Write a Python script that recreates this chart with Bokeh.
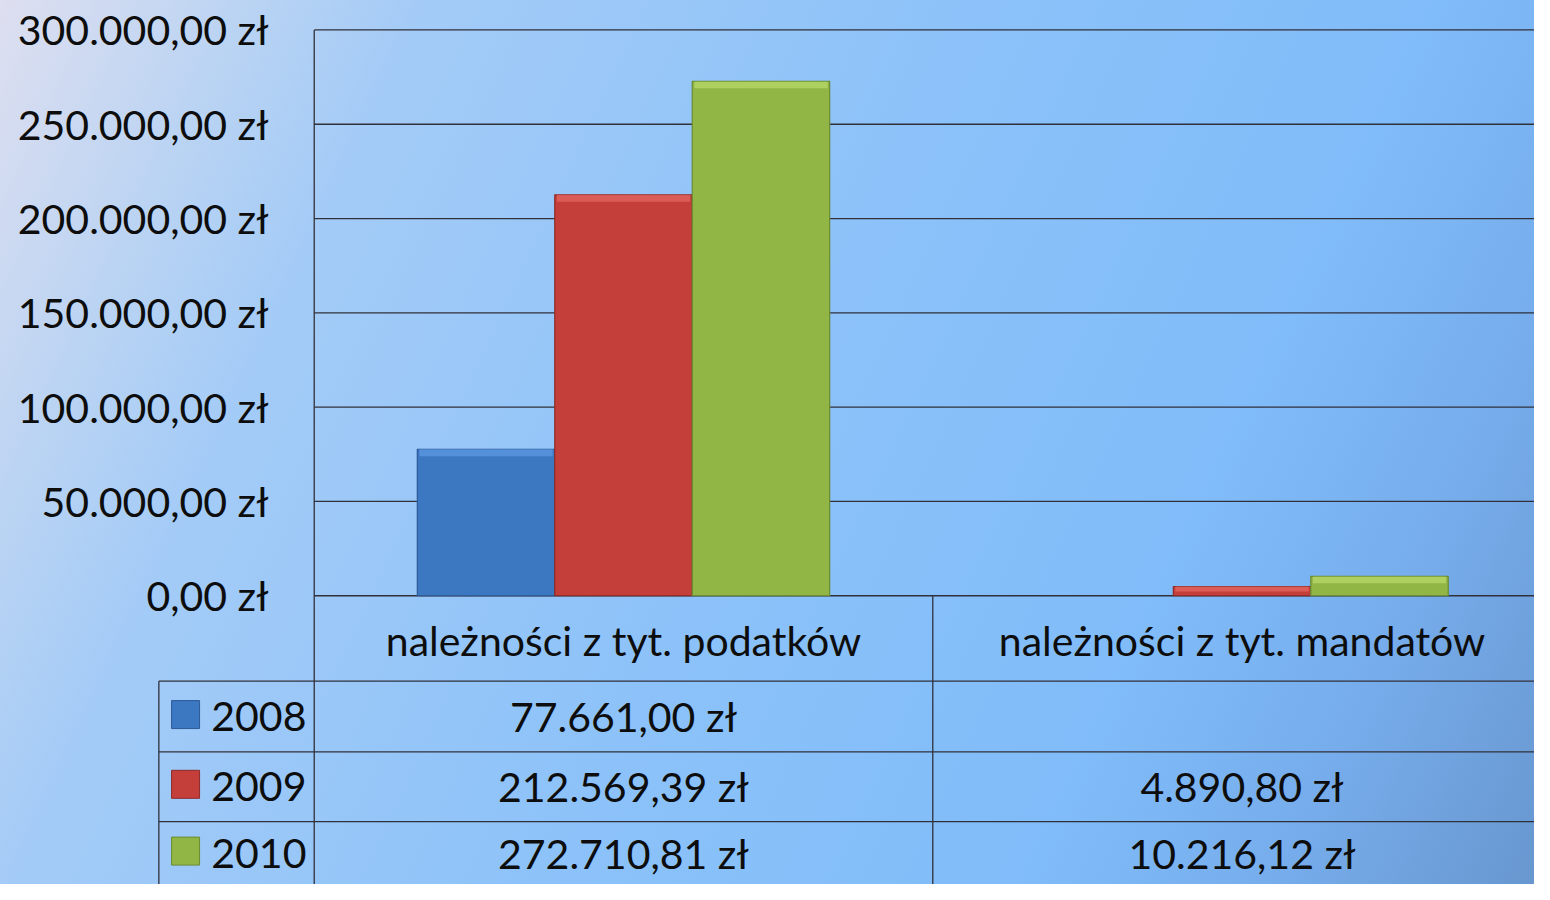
from bokeh.plotting import figure
from bokeh.models import Range1d, ColumnDataSource
from bokeh.core.properties import value
from bokeh.embed import file_html
from bokeh.resources import INLINE

# ---------------- data ----------------
categories = ["należności z tyt. podatków", "należności z tyt. mandatów"]
years = ["2008", "2009", "2010"]
v2008 = [77661.00, None]
v2009 = [212569.39, 4890.80]
v2010 = [272710.81, 10216.12]
series = [v2008, v2009, v2010]
y_ticks = [0, 50000, 100000, 150000, 200000, 250000, 300000]

colors = ["#3c77c2", "#c43e3a", "#91b646"]
light = ["#6aa6ee", "#f07470", "#c4e678"]
dark = ["#2c5a96", "#8e2a28", "#6a8a30"]

# ---------------- layout (reference pixels, 1550 x 900 scaled into canvas) ----------------
REF_W, REF_H = 1550, 900
W, H = 1534, 884
PLOT_LEFT = 317
CAT_W = 625
Y0_PX = 606
YMAX_PX = 30
YMAX = 300000
GAP = 1.5
BW = 1.0 / (len(years) + GAP)

def u(px):
    return (px - PLOT_LEFT) / CAT_W

def vv(py):
    return (Y0_PX - py) * YMAX / (Y0_PX - YMAX_PX)

def fmt_zl(x):
    s = f"{x:,.2f}".replace(",", " ").replace(".", ",").replace(" ", ".")
    return s + " zł"

FONT = value("Lato")
FS = "41px"
TXT = "#0d0d0d"

p = figure(width=W, height=H,
           x_range=Range1d(u(0), u(REF_W)),
           y_range=Range1d(vv(REF_H), vv(0)),
           min_border=0, x_axis_type=None, y_axis_type=None,
           toolbar_location=None, output_backend="svg",
           background_fill_alpha=0, border_fill_alpha=0,
           outline_line_color=None,
           styles={"background": "linear-gradient(115deg, #dedff0 0%, #b9d3f3 13%, #a3cbf7 22%, #8cc2f9 50%, #80bcf9 74%, #76aceb 87%, #6897cf 100%)"})
p.grid.visible = False

GRID = "#30303a"
x_right = len(categories)

# gridlines
p.segment(x0=[0] * len(y_ticks), y0=y_ticks, x1=[x_right] * len(y_ticks), y1=y_ticks,
          line_color=GRID, line_width=1.3)
# y tick labels
p.text(x=[u(271)] * len(y_ticks), y=y_ticks, text=[fmt_zl(t) for t in y_ticks],
       text_font=FONT, text_font_size=FS, text_align="right", text_baseline="middle",
       text_color=TXT)

# bars
dv = 7 * YMAX / (Y0_PX - YMAX_PX)
for j, vals in enumerate(series):
    xs, tops = [], []
    for i, v in enumerate(vals):
        if v is None:
            continue
        xs.append(i + 0.5 + (j - 1) * BW)
        tops.append(v)
    src = ColumnDataSource(dict(x=xs, top=tops,
                                hb=[max(t - dv, t * 0.45) for t in tops]))
    p.vbar(x="x", top="top", bottom=0, width=BW, source=src,
           fill_color=colors[j], line_color=dark[j], line_width=1.2)
    p.vbar(x="x", top="top", bottom="hb", width=BW * 0.97, source=src,
           fill_color=light[j], fill_alpha=0.55, line_color=None)

# table lines
row_b = [693, 765, 836]
p.segment(x0=[u(160)] * len(row_b), y0=[vv(r) for r in row_b],
          x1=[x_right] * len(row_b), y1=[vv(r) for r in row_b],
          line_color=GRID, line_width=1.3)
p.segment(x0=[0, u(160), 1], y0=[YMAX, vv(693), 0],
          x1=[0, u(160), 1], y1=[vv(REF_H + 20)] * 3,
          line_color=GRID, line_width=1.3)

# category labels
p.text(x=[i + 0.5 for i in range(len(categories))], y=[vv(652)] * len(categories),
       text=categories, text_font=FONT, text_font_size=FS, text_align="center",
       text_baseline="middle", text_color=TXT)

# legend rows and values
row_c = [729, 800, 868]
p.rect(x=[u(187)] * 3, y=[vv(c - 2) for c in row_c], width=28, height=28,
       width_units="screen", height_units="screen",
       fill_color=colors, line_color=dark, line_width=1)
p.text(x=[u(213)] * 3, y=[vv(c) for c in row_c], text=years,
       text_font=FONT, text_font_size=FS, text_align="left", text_baseline="middle",
       text_color=TXT)
for j, vals in enumerate(series):
    xs, ys, ts = [], [], []
    for i, v in enumerate(vals):
        if v is None:
            continue
        xs.append(i + 0.5)
        ys.append(vv(row_c[j]))
        ts.append(fmt_zl(v))
    p.text(x=xs, y=ys, text=ts, text_font=FONT, text_font_size=FS,
           text_align="center", text_baseline="middle", text_color=TXT)

open("out.html", "w").write(file_html(p, INLINE))
